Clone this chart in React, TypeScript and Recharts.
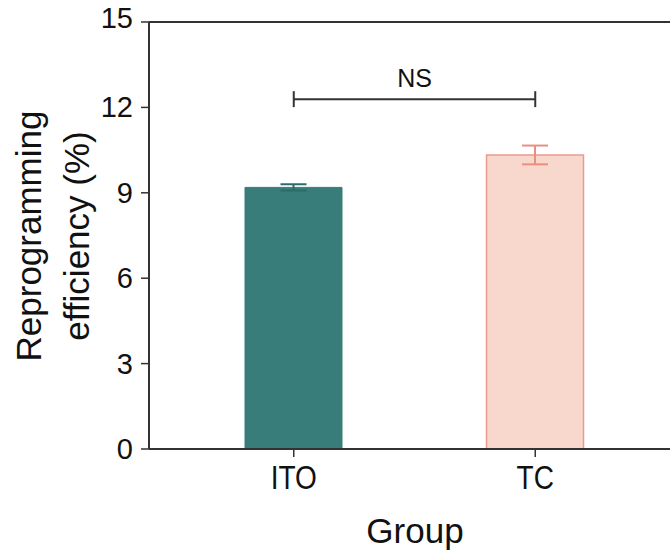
import { BarChart, Bar, XAxis, YAxis, ErrorBar, ReferenceLine } from 'recharts';

const groups = ['ITO', 'TC'];
const itoValues = [9.19, null];
const itoErrors = [0.11, null];
const tcValues = [null, 10.33];
const tcErrors = [null, 0.33];
const yTicks = [0, 3, 6, 9, 12, 15];
const bracketLevel = 12.29;
const bracketTick = 0.28;

const FONT = '"Liberation Sans", Arial, sans-serif';

const chartData = groups.map((group, i) => ({
  group,
  ito: itoValues[i],
  itoErr: itoErrors[i],
  tc: tcValues[i],
  tcErr: tcErrors[i],
}));

// two-line rotated y label
const YLabel = () => (
  <g fontFamily={FONT} fontSize={35} fill="#111">
    <text x={41} y={236} textAnchor="middle" transform="rotate(-90 41 236)">
      Reprogramming
    </text>
    <text x={89} y={236} textAnchor="middle" transform="rotate(-90 89 236)">
      efficiency (%)
    </text>
  </g>
);

const XLabel = () => (
  <text x={415} y={543} textAnchor="middle" fontFamily={FONT} fontSize={35} fill="#111">
    Group
  </text>
);

// category labels are condensed
const XTick = (props: any) => {
  const { x, y, payload } = props;
  return (
    <g transform={`translate(${x},${y})`}>
      <text
        x={0}
        y={0}
        dy={32}
        textAnchor="middle"
        fontFamily={FONT}
        fontSize={33}
        fill="#111"
        transform="scale(0.85 1)"
      >
        {payload.value}
      </text>
    </g>
  );
};

const YTick = (props: any) => {
  const { x, y, payload } = props;
  const lift = payload.value === 15 ? -4 : 0;
  return (
    <text x={x} y={y + lift} dy={10} textAnchor="end" fontFamily={FONT} fontSize={29} fill="#111">
      {payload.value}
    </text>
  );
};

export default function App() {
  return (
    <div style={{ position: 'absolute', left: 0, top: 0, width: 670, height: 555, background: '#fff' }}>
      <BarChart
        width={670}
        height={555}
        data={chartData}
        margin={{ top: 22, right: 0, left: 0, bottom: 0 }}
        barGap={-97}
        barSize={97}
      >
        <XAxis
          dataKey="group"
          height={106}
          padding={{ left: 24, right: 14 }}
          axisLine={{ stroke: '#333', strokeWidth: 2 }}
          tickLine={{ stroke: '#333', strokeWidth: 1.5 }}
          tickSize={8}
          tickMargin={0}
          tick={<XTick />}
          label={<XLabel />}
        />
        <YAxis
          width={149}
          domain={[0, 15]}
          ticks={yTicks}
          axisLine={{ stroke: '#333', strokeWidth: 2 }}
          tickLine={{ stroke: '#333', strokeWidth: 1.5 }}
          tickSize={8}
          tickMargin={8}
          tick={<YTick />}
          label={<YLabel />}
        />
        <ReferenceLine y={15} stroke="#333" strokeWidth={2} />
        <ReferenceLine y={0} stroke="#aaa" strokeDasharray="12 5" strokeWidth={1} />
        <Bar dataKey="ito" fill="#387d7a" stroke="#387d7a" strokeWidth={1} isAnimationActive={false}>
          <ErrorBar dataKey="itoErr" width={13} stroke="#2c6b68" strokeWidth={2} isAnimationActive={false} />
        </Bar>
        <Bar dataKey="tc" fill="#f8d7cd" stroke="#ec9a8d" strokeWidth={1.5} isAnimationActive={false}>
          <ErrorBar dataKey="tcErr" width={13} stroke="#e98f81" strokeWidth={2} isAnimationActive={false} />
        </Bar>
        <ReferenceLine
          segment={[{ x: 'ITO', y: bracketLevel }, { x: 'TC', y: bracketLevel }]}
          stroke="#333"
          strokeWidth={2}
          label={{ value: 'NS', position: 'top', offset: 12, fill: '#111', fontSize: 25, fontFamily: FONT }}
        />
        <ReferenceLine
          segment={[{ x: 'ITO', y: bracketLevel - bracketTick }, { x: 'ITO', y: bracketLevel + bracketTick }]}
          stroke="#333"
          strokeWidth={2}
        />
        <ReferenceLine
          segment={[{ x: 'TC', y: bracketLevel - bracketTick }, { x: 'TC', y: bracketLevel + bracketTick }]}
          stroke="#333"
          strokeWidth={2}
        />
      </BarChart>
    </div>
  );
}
